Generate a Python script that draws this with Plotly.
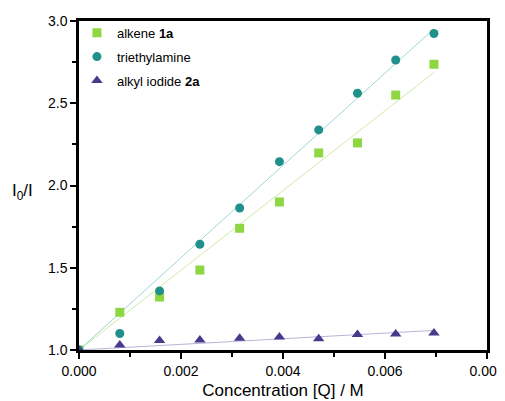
import numpy as np
import plotly.graph_objects as go

conc = [0.0, 0.00080, 0.00158, 0.00237, 0.00315, 0.00393, 0.00470, 0.00546, 0.00621, 0.00696]
alkene = [1.0, 1.229, 1.322, 1.486, 1.740, 1.900, 2.198, 2.259, 2.550, 2.737]
tea = [1.0, 1.100, 1.359, 1.643, 1.863, 2.145, 2.338, 2.561, 2.763, 2.924]
iodide = [1.0, 1.030, 1.057, 1.061, 1.071, 1.079, 1.069, 1.094, 1.098, 1.104]

names = ["alkene <b>1a</b>", "triethylamine", "alkyl iodide <b>2a</b>"]
series = [alkene, tea, iodide]
marker_colors = ["#8ed642", "#20908b", "#453a8b"]
line_colors = ["#cdeba6", "#9fd6d6", "#b8b2d8"]
symbols = ["square", "circle", "triangle-up"]
sizes = [9, 9, 10]

x = np.array(conc)
fig = go.Figure()
# Stern-Volmer fits (intercept fixed at 1)
for y, lc in zip(series, line_colors):
    y = np.array(y)
    k = np.sum(x * (y - 1)) / np.sum(x * x)
    xf = np.array([0.0, x.max()])
    fig.add_trace(go.Scatter(x=xf, y=1 + k * xf, mode="lines",
                             line=dict(color=lc, width=1), showlegend=False,
                             hoverinfo="skip"))
for i, (y, n, mc, s, sz) in enumerate(zip(series, names, marker_colors, symbols, sizes)):
    fig.add_trace(go.Scatter(x=conc, y=y, mode="markers", name=n, legendgroup=f"g{i}",
                             marker=dict(color=mc, symbol=s, size=sz, line=dict(width=0))))

font = "Liberation Sans, Arial, sans-serif"
fig.update_layout(
    width=497, height=393,
    margin=dict(l=71, r=18, t=13, b=51, autoexpand=False),
    paper_bgcolor="white", plot_bgcolor="white",
    font=dict(family=font, color="black", size=14),
    legend=dict(x=-0.005, y=1.01, xanchor="left", yanchor="top", tracegroupgap=4,
                bgcolor="rgba(0,0,0,0)", font=dict(family=font, size=13)),
    xaxis=dict(range=[0, 0.008], dtick=0.002, tickformat=".3f",
               showline=True, linecolor="black", linewidth=2.5, mirror=True,
               ticks="outside", ticklen=6, tickwidth=2, tickcolor="black",
               minor=dict(dtick=0.001, ticks="outside", ticklen=4, tickwidth=2, tickcolor="black"),
               showgrid=False, zeroline=False,
               title=dict(text="Concentration [Q] / M", font=dict(size=17), standoff=7)),
    yaxis=dict(range=[1.0, 3.0], dtick=0.5, tickformat=".1f",
               showline=True, linecolor="black", linewidth=2.5, mirror=True,
               ticks="outside", ticklen=6, tickwidth=2, tickcolor="black",
               minor=dict(dtick=0.25, ticks="outside", ticklen=4, tickwidth=2, tickcolor="black"),
               showgrid=False, zeroline=False),
    annotations=[dict(text="I<sub>0</sub>/I", xref="paper", yref="paper",
                      x=(23 - 79) / 408, y=(350 - 192) / 329, showarrow=False,
                      font=dict(size=17), xanchor="center", yanchor="middle")],
)
fig.write_html("out.html")
